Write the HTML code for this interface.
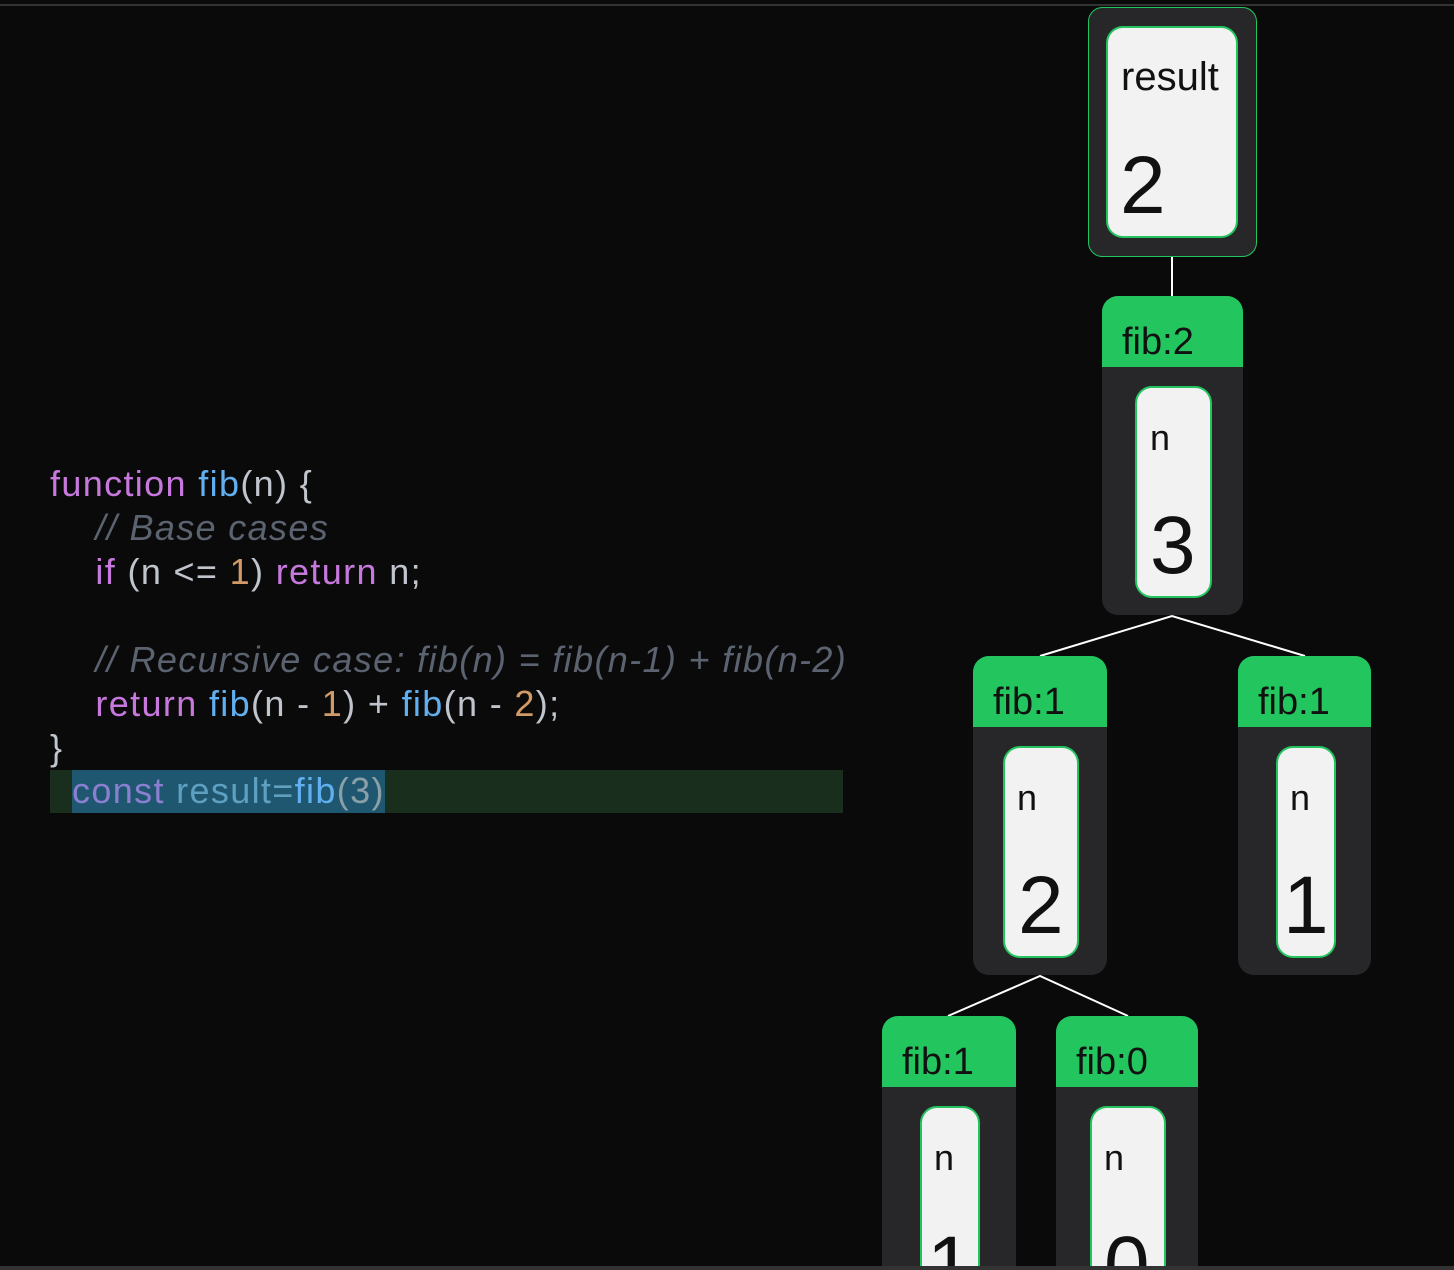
<!DOCTYPE html>
<html><head><meta charset="utf-8"><style>
html,body{margin:0;padding:0;background:#0a0a0a;width:1454px;height:1270px;overflow:hidden}
.code{position:absolute;left:50px;top:462px;font-family:"Liberation Sans",sans-serif;font-size:36px;letter-spacing:1.35px;line-height:44px;color:#c0c4cc;white-space:pre}
.k{color:#c678dd}.f{color:#61afef}.c{color:#5c6370;font-style:italic}.nm{color:#d19a66}
.hl{position:absolute;left:50px;top:770px;width:793px;height:43px;background:#1a2e1e}
.sel{position:absolute;left:72px;top:770px;width:313px;height:43px;background:#1f5670}
.last{position:absolute;left:72px;top:769px;font-family:"Liberation Sans",sans-serif;font-size:36px;letter-spacing:1.35px;line-height:44px;white-space:pre}
</style></head><body>
<div style="position:absolute;left:0;top:4px;width:1454px;height:2px;background:#333"></div>
<div class="hl"></div><div class="sel"></div>
<div class="code"><span class="k">function</span> <span class="f">fib</span>(n) {
    <span class="c">// Base cases</span>
    <span class="k">if</span> (n &lt;= <span class="nm">1</span>) <span class="k">return</span> n;

    <span class="c">// Recursive case: fib(n) = fib(n-1) + fib(n-2)</span>
    <span class="k">return</span> <span class="f">fib</span>(n - <span class="nm">1</span>) + <span class="f">fib</span>(n - <span class="nm">2</span>);
}</div>
<div class="last"><span style="color:#8a7fd0">const</span> <span style="color:#5fa0c0">result=</span><span class="f">fib</span><span style="color:#8aa0a8">(3)</span></div>
<svg width="1454" height="1270" style="position:absolute;left:0;top:0;overflow:hidden" font-family="Liberation Sans, sans-serif">
<g stroke="#fff" stroke-width="2" fill="none">
<line x1="1172" y1="256" x2="1172" y2="296"/>
<polyline points="1040,656 1172,616 1305,656"/>
<polyline points="948,1016 1040,976 1128,1016"/>
</g>
<rect x="1088.5" y="7.5" width="168" height="249" rx="14" fill="#27272a" stroke="#22c55e" stroke-width="1"/>
<rect x="1107" y="27" width="130" height="210" rx="16" fill="#f2f2f2" stroke="#22c55e" stroke-width="2"/>
<text x="1121" y="90" font-size="40" fill="#111">result</text>
<text x="1120" y="213" font-size="82" fill="#111">2</text>
<g>
<rect x="1102" y="296" width="141" height="319" rx="16" fill="#27272a"/>
<path d="M1102,367 V312 a16,16 0 0 1 16,-16 H1227 a16,16 0 0 1 16,16 V367 Z" fill="#22c55e"/>
<text x="1122" y="354" font-size="38" fill="#111">fib:2</text>
<rect x="1136" y="387" width="75" height="210" rx="16" fill="#f2f2f2" stroke="#22c55e" stroke-width="2"/>
<text x="1150" y="450" font-size="36" fill="#111">n</text>
<text x="1150" y="573" font-size="82" fill="#111">3</text>
</g>
<g>
<rect x="973" y="656" width="134" height="319" rx="16" fill="#27272a"/>
<path d="M973,727 V672 a16,16 0 0 1 16,-16 H1091 a16,16 0 0 1 16,16 V727 Z" fill="#22c55e"/>
<text x="993" y="714" font-size="38" fill="#111">fib:1</text>
<rect x="1004" y="747" width="74" height="210" rx="16" fill="#f2f2f2" stroke="#22c55e" stroke-width="2"/>
<text x="1017" y="810" font-size="36" fill="#111">n</text>
<text x="1018" y="933" font-size="82" fill="#111">2</text>
</g>
<g>
<rect x="1238" y="656" width="133" height="319" rx="16" fill="#27272a"/>
<path d="M1238,727 V672 a16,16 0 0 1 16,-16 H1355 a16,16 0 0 1 16,16 V727 Z" fill="#22c55e"/>
<text x="1258" y="714" font-size="38" fill="#111">fib:1</text>
<rect x="1277" y="747" width="58" height="210" rx="16" fill="#f2f2f2" stroke="#22c55e" stroke-width="2"/>
<text x="1290" y="810" font-size="36" fill="#111">n</text>
<text x="1283" y="933" font-size="82" fill="#111">1</text>
</g>
<g>
<rect x="882" y="1016" width="134" height="319" rx="16" fill="#27272a"/>
<path d="M882,1087 V1032 a16,16 0 0 1 16,-16 H1000 a16,16 0 0 1 16,16 V1087 Z" fill="#22c55e"/>
<text x="902" y="1074" font-size="38" fill="#111">fib:1</text>
<rect x="921" y="1107" width="58" height="210" rx="16" fill="#f2f2f2" stroke="#22c55e" stroke-width="2"/>
<text x="934" y="1170" font-size="36" fill="#111">n</text>
<text x="927" y="1293" font-size="82" fill="#111">1</text>
</g>
<g>
<rect x="1056" y="1016" width="142" height="319" rx="16" fill="#27272a"/>
<path d="M1056,1087 V1032 a16,16 0 0 1 16,-16 H1182 a16,16 0 0 1 16,16 V1087 Z" fill="#22c55e"/>
<text x="1076" y="1074" font-size="38" fill="#111">fib:0</text>
<rect x="1091" y="1107" width="74" height="210" rx="16" fill="#f2f2f2" stroke="#22c55e" stroke-width="2"/>
<text x="1104" y="1170" font-size="36" fill="#111">n</text>
<text x="1104" y="1293" font-size="82" fill="#111">0</text>
</g>
<rect x="0" y="1266" width="1454" height="4" fill="#333"/>
</svg>
</body></html>
